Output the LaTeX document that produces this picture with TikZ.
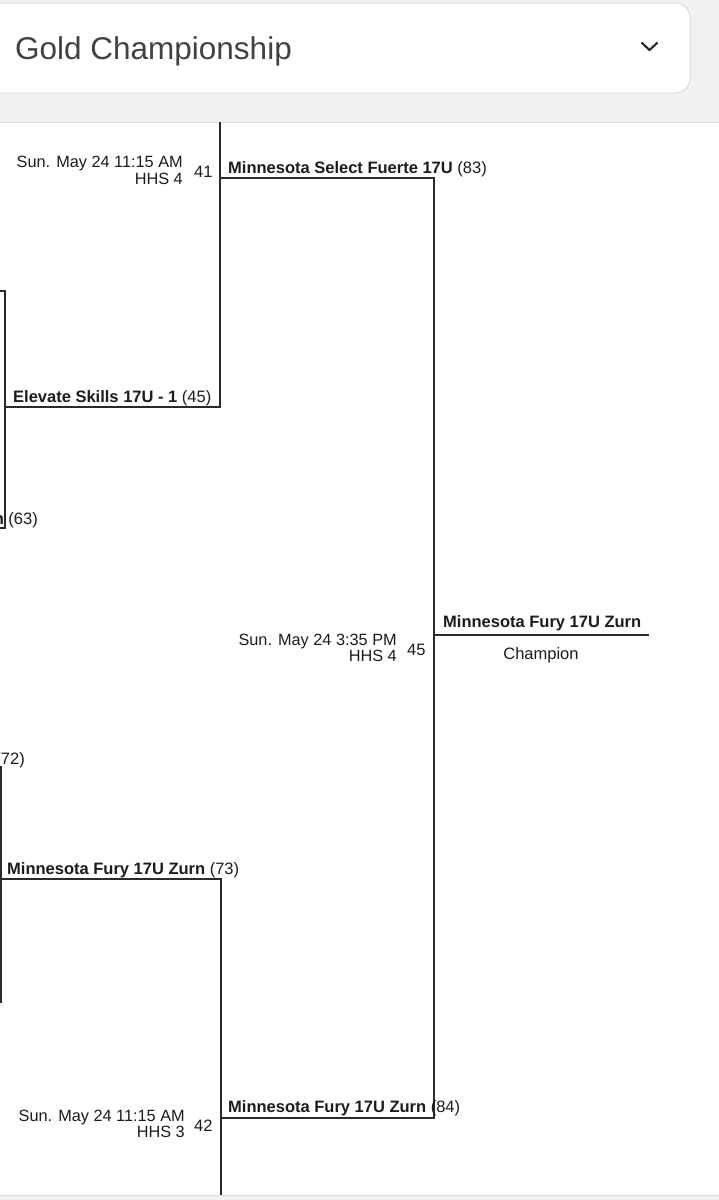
\documentclass[tikz,border=0pt]{standalone}
\usepackage{fontspec}
\setmainfont{Liberation Sans}
\definecolor{bgGrey}{HTML}{F1F1F3}
\definecolor{edgeGrey}{HTML}{DCDCDE}
\definecolor{wireCol}{HTML}{2A2A2A}
\definecolor{txtCol}{HTML}{1C1C1C}
\definecolor{headCol}{HTML}{404244}
\begin{document}
\begin{tikzpicture}[x=1pt,y=-1pt,
  wire/.style={draw=wireCol,line width=1.4pt,line cap=rect},
  team/.style={anchor=base west,inner sep=0pt,text=txtCol,font=\fontsize{16.5}{19}\selectfont},
  teamR/.style={anchor=base east,inner sep=0pt,text=txtCol,font=\fontsize{16.5}{19}\selectfont},
  info/.style={anchor=base east,inner sep=0pt,text=txtCol,font=\fontsize{16.3}{19}\selectfont},
  mnum/.style={anchor=base west,inner sep=0pt,text=txtCol,font=\fontsize{16.5}{19}\selectfont},
  champ/.style={anchor=base,inner sep=0pt,text=txtCol,font=\fontsize{16.5}{19}\selectfont}]
\useasboundingbox (0,0) rectangle (719,1200);
\fill[white] (0,0) rectangle (719,1200);
% header
\fill[bgGrey] (0,0) rectangle (719,122);
\draw[edgeGrey,line width=1pt] (0,122) -- (719,122);
\draw[edgeGrey,fill=white,line width=1pt,rounded corners=15pt] (-30,3) rectangle (690,93);
\node[anchor=base west,inner sep=0pt,text=headCol,font=\fontsize{31.5}{36}\selectfont] (title) at (15,59) {Gold Championship};
\coordinate (chevA) at (642,43);
\coordinate (chevB) at (649.5,50);
\coordinate (chevC) at (657,43);
\draw[wireCol,line width=2.2pt,line cap=round,line join=round] (chevA) -- (chevB) -- (chevC);
% bottom strip
\fill[bgGrey] (0,1195) rectangle (719,1200);
\draw[edgeGrey,line width=1pt] (0,1195) -- (719,1195);

% coordinates
\coordinate (a41top) at (220,122.5);
\coordinate (a41) at (220,178);
\coordinate (a41bot) at (220,407);
\coordinate (m45top) at (434,178);
\coordinate (l1top) at (5,291);
\coordinate (l1bot) at (5,528);
\coordinate (l1topL) at (-6,291);
\coordinate (l1botL) at (-6,528);
\coordinate (elevL) at (5,407);
\coordinate (m45) at (434,635);
\coordinate (champR) at (648,635);
\coordinate (m45bot) at (434,1118);
\coordinate (l2top) at (1,767);
\coordinate (l2bot) at (1,1002);
\coordinate (l2topL) at (-6,767);
\coordinate (l2botL) at (-6,1002);
\coordinate (furyL) at (-6,879);
\coordinate (a42top) at (221,879);
\coordinate (a42) at (221,1118);
\coordinate (a42bot) at (221,1194);

% connectors
\draw[wire] (a41top) -- (a41bot);
\draw[wire] (a41) -- (m45top) -- (m45bot);
\draw[wire] (elevL) -- (a41bot);
\draw[wire] (l1topL) -- (l1top) -- (l1bot) -- (l1botL);
\draw[wire] (m45) -- (champR);
\draw[wire] (l2topL) -- (l2top) -- (l2bot) -- (l2botL);
\draw[wire] (furyL) -- (a42top) -- (a42bot);
\draw[wire] (a42) -- (m45bot);

% match 41
\node[info] (d41) at (183,167) {Sun. May 24 11:15 AM};
\node[info] (c41) at (183,184) {HHS 4};
\node[mnum] (n41) at (194,177) {41};
\node[team] (t83) at (228,173) {\textbf{Minnesota Select Fuerte 17U} (83)};
\node[team] (t45) at (13,402) {\textbf{Elevate Skills 17U - 1} (45)};
\node[teamR] (t63) at (38,524) {\textbf{n} (63)};
% match 45
\node[info] (d45) at (397,645) {Sun. May 24 3:35 PM};
\node[info] (c45) at (397,661) {HHS 4};
\node[mnum] (n45) at (407,655) {45};
\node[team] (tchamp) at (443,627) {\textbf{Minnesota Fury 17U Zurn}};
\node[champ] (champ) at (541,659) {Champion};
% lower left
\node[teamR] (t72) at (25,764) {(72)};
\node[team] (t73) at (7,874) {\textbf{Minnesota Fury 17U Zurn} (73)};
% match 42
\node[info] (d42) at (185,1121) {Sun. May 24 11:15 AM};
\node[info] (c42) at (185,1137) {HHS 3};
\node[mnum] (n42) at (194,1131) {42};
\node[team] (t84) at (228,1112) {\textbf{Minnesota Fury 17U Zurn} (84)};
\end{tikzpicture}
\end{document}
